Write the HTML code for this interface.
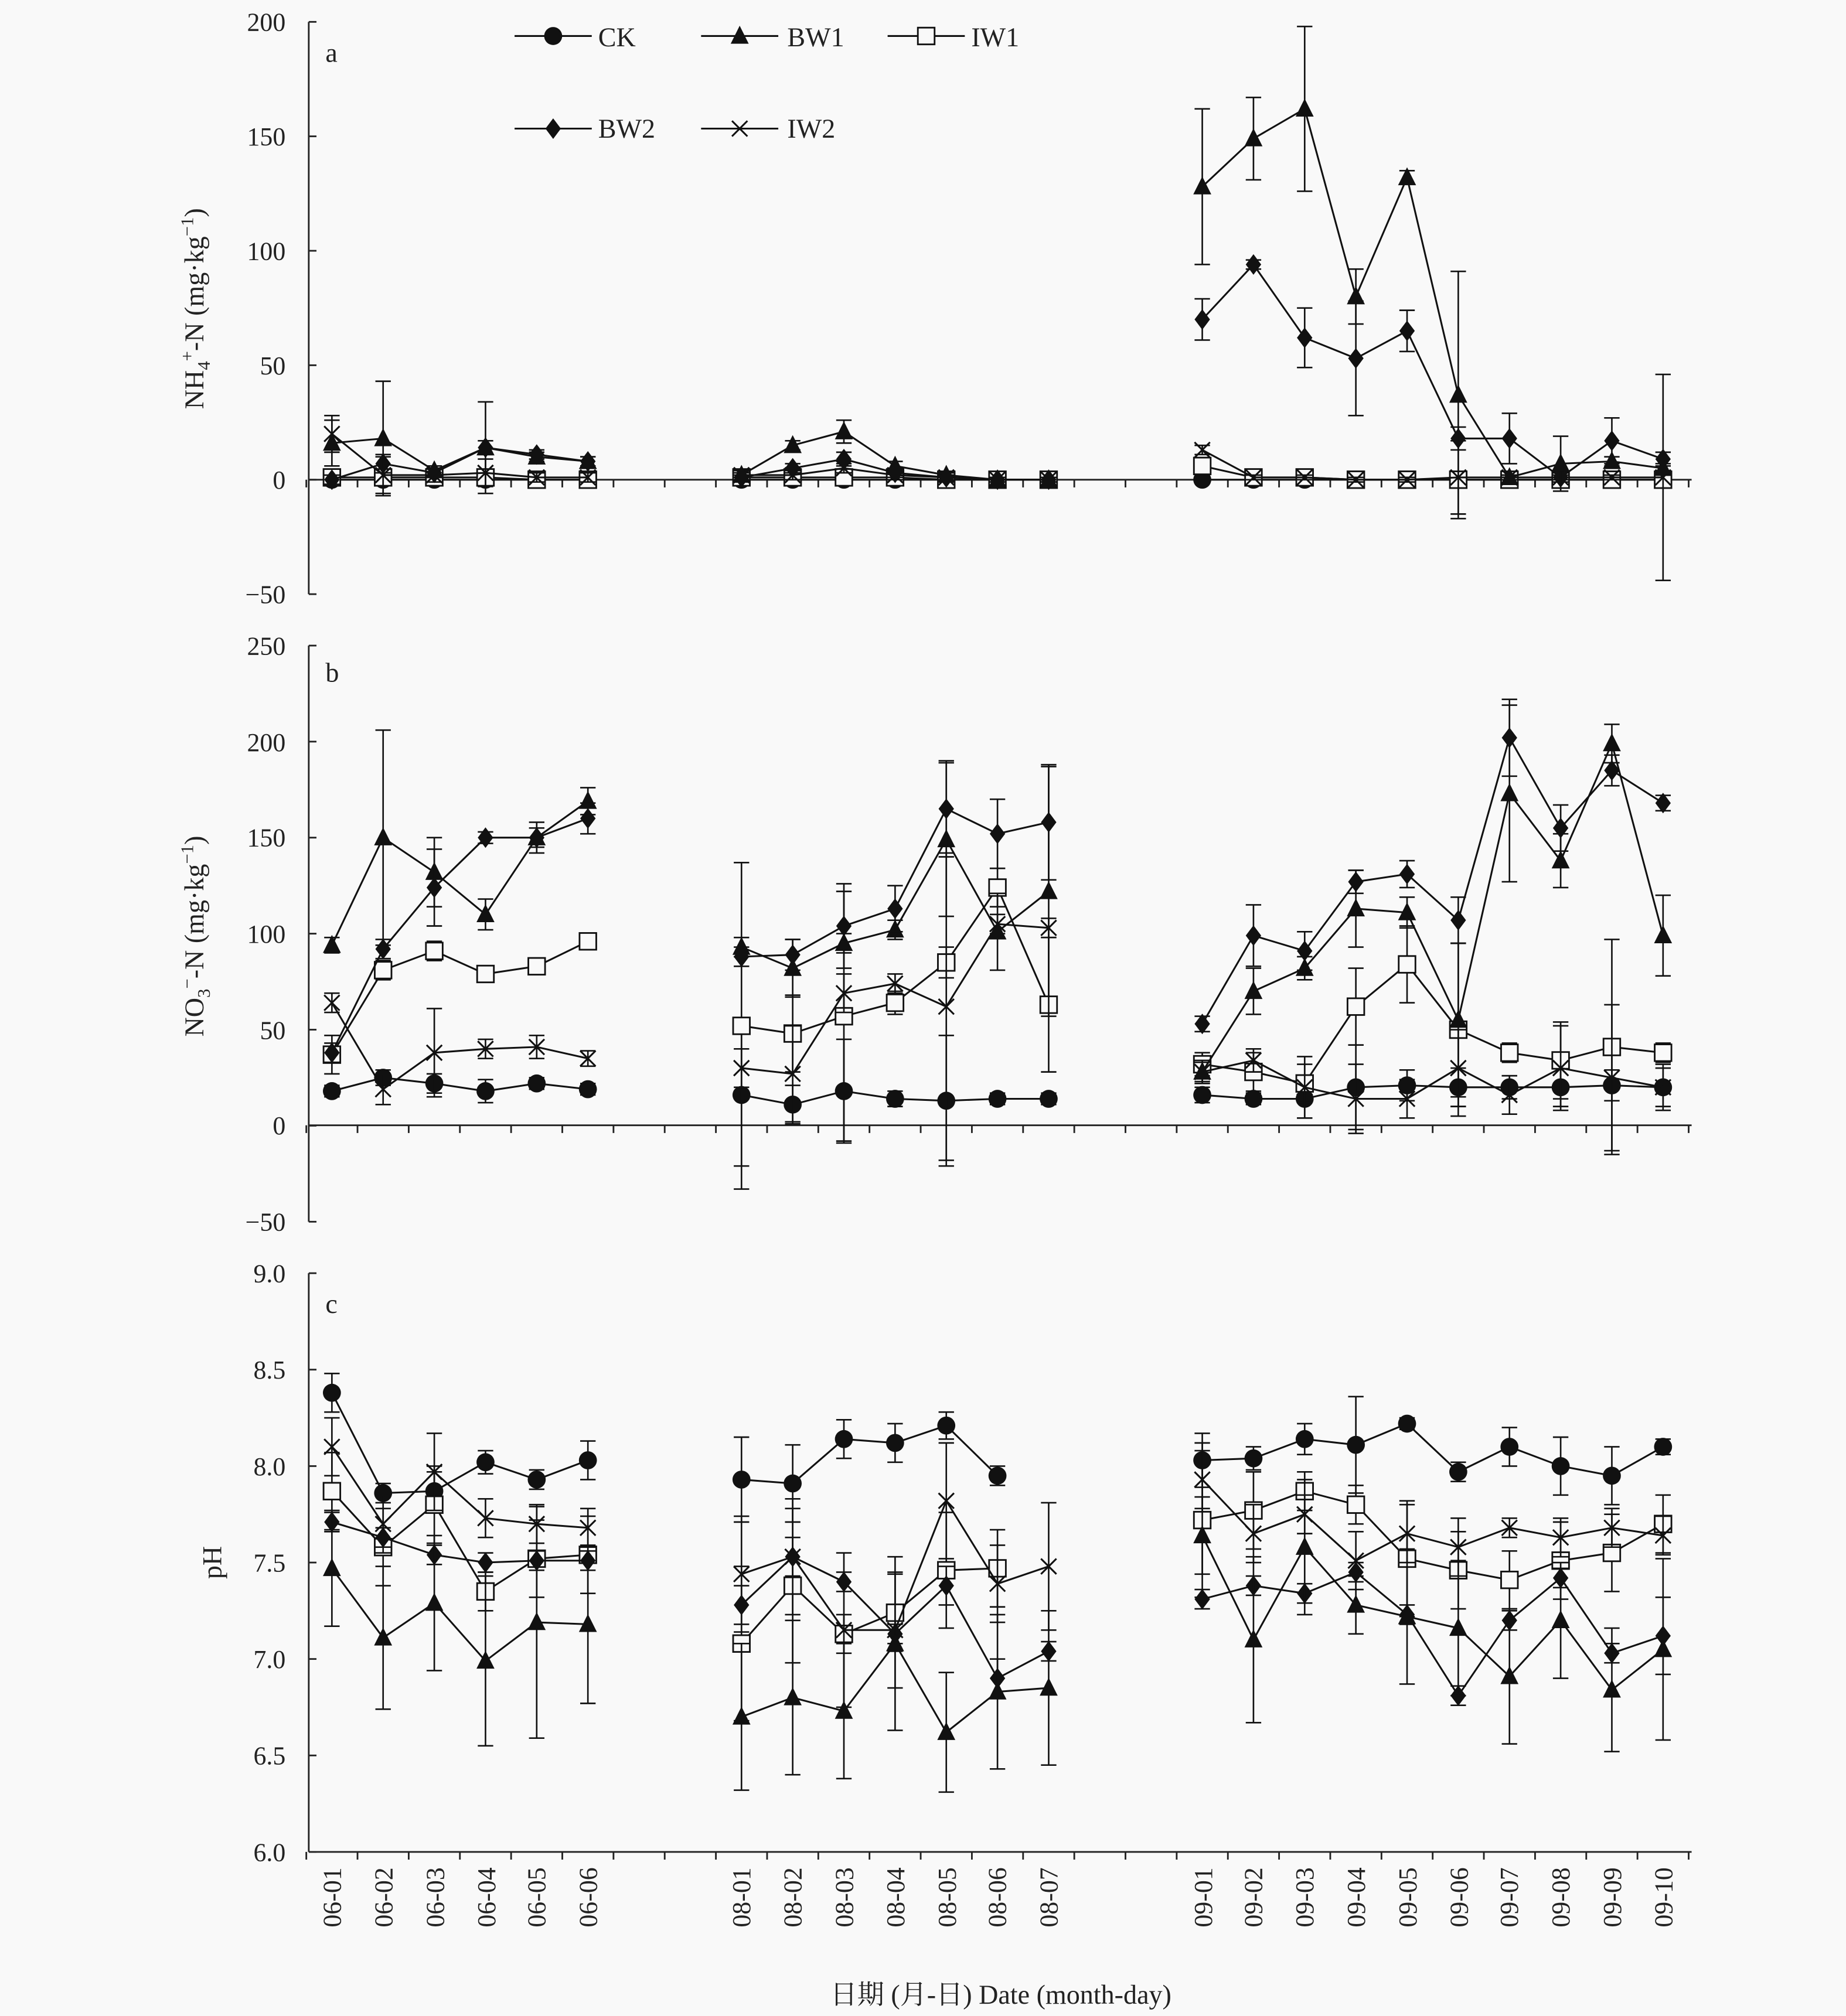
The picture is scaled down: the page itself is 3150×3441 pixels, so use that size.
<!DOCTYPE html>
<html><head><meta charset="utf-8"><style>
html,body{margin:0;padding:0;background:#f9f9f9;}
svg{display:block;font-family:"Liberation Serif","Noto Serif CJK SC",serif;}
</style></head><body>
<svg id="s" width="3150" height="3441" viewBox="0 0 1435 1567.6" xmlns="http://www.w3.org/2000/svg">
<rect x="0" y="0" width="1435" height="1568" fill="#f9f9f9"/>
<g id="axes" stroke="#222" stroke-width="1.3" fill="none"></g>
<g id="data"></g>
<g fill="#222" font-size="20" text-anchor="end">
<text x="222" y="24">200</text><text x="222" y="113">150</text><text x="222" y="202">100</text><text x="222" y="291">50</text><text x="222" y="380">0</text><text x="222" y="469">−50</text>
<text x="222" y="509">250</text><text x="222" y="584">200</text><text x="222" y="658">150</text><text x="222" y="733">100</text><text x="222" y="808">50</text><text x="222" y="882">0</text><text x="222" y="957">−50</text>
<text x="222" y="997">9.0</text><text x="222" y="1072">8.5</text><text x="222" y="1147">8.0</text><text x="222" y="1222">7.5</text><text x="222" y="1297">7.0</text><text x="222" y="1372">6.5</text><text x="222" y="1447">6.0</text>
</g>
<g fill="#222" font-size="21">
<text x="253" y="48">a</text><text x="253" y="530">b</text><text x="253" y="1021">c</text>
<text x="465" y="36">CK</text><text x="612" y="36">BW1</text><text x="755" y="36">IW1</text>
<text x="465" y="107">BW2</text><text x="612" y="107">IW2</text>
</g>
<g fill="#222" font-size="21" text-anchor="middle">
<text transform="translate(158,240) rotate(-90)">NH<tspan font-size="14" dy="5">4</tspan><tspan font-size="14" dy="-13">+</tspan><tspan dy="8">-N (mg·kg</tspan><tspan font-size="14" dy="-8">−1</tspan><tspan dy="8">)</tspan></text>
<text transform="translate(158,728) rotate(-90)">NO<tspan font-size="14" dy="5">3</tspan><tspan font-size="14" dy="-13">−</tspan><tspan dy="8">-N (mg·kg</tspan><tspan font-size="14" dy="-8">−1</tspan><tspan dy="8">)</tspan></text>
<text transform="translate(172,1215) rotate(-90)">pH</text>
<text x="778" y="1558">日期 (月-日) Date (month-day)</text>
</g>
<g id="xl" fill="#222" font-size="20" text-anchor="end">
<text transform="translate(265,1452) rotate(-90)">06-01</text><text transform="translate(305,1452) rotate(-90)">06-02</text><text transform="translate(345,1452) rotate(-90)">06-03</text><text transform="translate(385,1452) rotate(-90)">06-04</text><text transform="translate(424,1452) rotate(-90)">06-05</text><text transform="translate(464,1452) rotate(-90)">06-06</text>
<text transform="translate(583,1452) rotate(-90)">08-01</text><text transform="translate(623,1452) rotate(-90)">08-02</text><text transform="translate(663,1452) rotate(-90)">08-03</text><text transform="translate(703,1452) rotate(-90)">08-04</text><text transform="translate(743,1452) rotate(-90)">08-05</text><text transform="translate(782,1452) rotate(-90)">08-06</text><text transform="translate(822,1452) rotate(-90)">08-07</text>
<text transform="translate(942,1452) rotate(-90)">09-01</text><text transform="translate(981,1452) rotate(-90)">09-02</text><text transform="translate(1021,1452) rotate(-90)">09-03</text><text transform="translate(1061,1452) rotate(-90)">09-04</text><text transform="translate(1101,1452) rotate(-90)">09-05</text><text transform="translate(1141,1452) rotate(-90)">09-06</text><text transform="translate(1180,1452) rotate(-90)">09-07</text><text transform="translate(1220,1452) rotate(-90)">09-08</text><text transform="translate(1260,1452) rotate(-90)">09-09</text><text transform="translate(1300,1452) rotate(-90)">09-10</text>
</g>
</svg>
<script>
const NS="http://www.w3.org/2000/svg";
const ax=document.getElementById('axes'),dg=document.getElementById('data');
function el(p,t,a){const e=document.createElementNS(NS,t);for(const k in a)e.setAttribute(k,a[k]);p.appendChild(e);return e;}
const X=i=>258+i*39.8;
const L=240,R=1315;
// panels
const P=[{top:17,bot:462,zero:373,f:v=>17+(200-v)*1.78,ticks:[200,150,100,50,0,-50]},
 {top:502,bot:950,zero:875,f:v=>502+(250-v)*1.4933,ticks:[250,200,150,100,50,0,-50]},
 {top:990,bot:1440,zero:1440,f:v=>990+(9-v)*150,ticks:[9,8.5,8,7.5,7,6.5,6]}];
P.forEach(p=>{
 el(ax,'line',{x1:L,y1:p.top,x2:L,y2:p.bot});
 p.ticks.forEach(t=>el(ax,'line',{x1:L,y1:p.f(t),x2:L+6,y2:p.f(t)}));
 el(ax,'line',{x1:L,y1:p.zero,x2:R,y2:p.zero});
 for(let i=0;i<=27;i++){const x=258-19.9+i*39.8;el(ax,'line',{x1:x,y1:p.zero,x2:x,y2:p.zero+6});}
});
const idx=[0,1,2,3,4,5,8,9,10,11,12,13,14,17,18,19,20,21,22,23,24,25,26];
function marker(g,t,x,y){
 if(t=='c')el(g,'circle',{cx:x,cy:y,r:7,fill:'#111'});
 if(t=='t')el(g,'path',{d:`M${x},${y-8}L${x+7},${y+6}L${x-7},${y+6}Z`,fill:'#111'});
 if(t=='s')el(g,'rect',{x:x-6.5,y:y-6.5,width:13,height:13,fill:'#f9f9f9',stroke:'#111','stroke-width':1.3});
 if(t=='d')el(g,'path',{d:`M${x},${y-8}L${x+6},${y}L${x},${y+8}L${x-6},${y}Z`,fill:'#111'});
 if(t=='x')el(g,'path',{d:`M${x-6},${y-6}L${x+6},${y+6}M${x+6},${y-6}L${x-6},${y+6}`,stroke:'#111','stroke-width':1.4,fill:'none'});
}
function series(p,t,vals,errs){
 const g=el(dg,'g',{});
 const groups=[[0,6],[6,13],[13,23]];
 groups.forEach(([a,b])=>{
  let pts=[];
  for(let k=a;k<b;k++){if(vals[k]==null)continue;pts.push([X(idx[k]),p.f(vals[k]),k]);}
  el(g,'polyline',{points:pts.map(q=>q[0]+','+q[1]).join(' '),fill:'none',stroke:'#111','stroke-width':1.4});
  pts.forEach(q=>{const e=errs?errs[q[2]]:0;if(e){const y1=p.f(vals[q[2]]+e),y2=p.f(vals[q[2]]-e);
   el(g,'path',{d:`M${q[0]},${y1}V${y2}M${q[0]-6},${y1}H${q[0]+6}M${q[0]-6},${y2}H${q[0]+6}`,stroke:'#111','stroke-width':1.2,fill:'none'});}});
  pts.forEach(q=>marker(g,t,q[0],q[1]));
 });
}
const A=P[0],B=P[1],C=P[2];
// panel a
series(A,'c',[0,0,0,0,0,0, 0,0,0,0,0,0,0, 0,0,0,0,0,0,0,0,0,0]);
series(A,'s',[1,1,1,1,0,0, 1,1,1,1,0,0,0, 6,1,1,0,0,0,0,0,0,0],[2,2,2,2,1,1,1,1,1,1,1,1,1,3,1,1,1,1,1,1,1,1,1]);
series(A,'x',[20,2,2,3,1,1, 2,2,5,2,1,0,0, 13,1,1,0,0,1,1,1,1,1],[8,8,3,6,2,2,2,2,2,2,1,1,1,2,1,1,1,1,16,1,1,1,45]);
series(A,'d',[0,7,3,14,11,8, 1,5,9,3,1,0,0, 70,94,62,53,65,18,18,1,17,9],[2,4,2,3,2,2,1,2,3,2,1,1,1,9,2,13,25,9,5,11,2,10,3]);
series(A,'t',[16,18,4,14,10,8, 2,15,21,6,2,0,0, 128,149,162,80,132,37,1,7,8,5],[10,25,2,20,2,2,1,2,5,2,1,1,1,34,18,36,12,3,54,1,12,2,2]);
// panel b
series(B,'c',[18,25,22,18,22,19, 16,11,18,14,13,14,14, 16,14,14,20,21,20,20,20,21,20],[3,4,5,6,3,3,37,10,27,4,34,3,3,4,3,10,22,8,10,6,10,8,12]);
series(B,'s',[37,81,91,79,83,96, 52,48,57,64,85,124,63, 32,28,22,62,84,50,38,34,41,38],[10,5,5,4,4,4,85,20,65,6,8,10,35,6,10,10,20,20,45,5,20,56,5]);
series(B,'x',[64,19,38,40,41,35, 30,27,69,74,62,105,103, 28,34,20,14,14,30,16,30,25,20],[5,8,23,5,6,4,10,25,10,5,80,5,5,5,6,16,18,10,20,10,22,38,10]);
series(B,'t',[94,150,132,110,150,169, 93,82,95,102,149,101,122, 28,70,82,113,111,55,173,138,199,99],[4,56,18,8,8,7,5,15,5,5,40,20,65,6,12,6,20,8,40,46,14,10,21]);
series(B,'d',[38,92,124,150,150,160, 88,89,104,113,165,152,158, 53,99,91,127,131,107,202,155,185,168],[5,5,20,3,5,8,5,8,22,12,25,18,30,4,16,10,6,7,12,20,12,8,4]);
// panel c
series(C,'c',[8.38,7.86,7.87,8.02,7.93,8.03, 7.93,7.91,8.14,8.12,8.21,7.95,null, 8.03,8.04,8.14,8.11,8.22,7.97,8.10,8.00,7.95,8.10],[0.1,0.05,0.1,0.06,0.05,0.1,0.22,0.2,0.1,0.1,0.07,0.05,0,0.14,0.06,0.08,0.25,0.03,0.05,0.1,0.15,0.15,0.04]);
series(C,'s',[7.87,7.58,7.80,7.35,7.52,7.54, 7.08,7.38,7.13,7.24,7.46,7.47,null, 7.72,7.77,7.87,7.80,7.52,7.46,7.41,7.51,7.55,7.70],[0.2,0.2,0.2,0.1,0.2,0.2,0.4,0.4,0.1,0.2,0.3,0.2,0,0.4,0.2,0.1,0.1,0.3,0.2,0.15,0.2,0.2,0.15]);
series(C,'x',[8.10,7.70,7.97,7.73,7.70,7.68, 7.44,7.53,7.15,7.15,7.82,7.39,7.48, 7.93,7.65,7.75,7.51,7.65,7.58,7.68,7.63,7.68,7.64],[0.15,0.15,0.2,0.1,0.1,0.1,0.3,0.3,0.4,0.3,0.3,0.2,0.33,0.15,0.15,0.1,0.15,0.15,0.15,0.05,0.1,0.1,0.1]);
series(C,'d',[7.71,7.63,7.54,7.50,7.51,7.51, 7.28,7.53,7.40,7.13,7.38,6.90,7.04, 7.31,7.38,7.34,7.45,7.23,6.81,7.20,7.42,7.03,7.12],[0.05,0.05,0.05,0.05,0.05,0.05,0.1,0.1,0.05,0.05,0.1,0.1,0.05,0.05,0.05,0.05,0.05,0.05,0.05,0.05,0.05,0.05,0.2]);
series(C,'t',[7.47,7.11,7.29,6.99,7.19,7.18, 6.70,6.80,6.73,7.08,6.62,6.83,6.85, 7.64,7.10,7.58,7.28,7.22,7.16,6.91,7.20,6.84,7.05],[0.3,0.37,0.35,0.44,0.6,0.41,0.38,0.4,0.35,0.45,0.31,0.4,0.4,0.2,0.43,0.35,0.15,0.35,0.35,0.35,0.3,0.32,0.47]);
// legend
const lg=el(dg,'g',{});
[[400,28,'c'],[545,28,'t'],[690,28,'s'],[400,100,'d'],[545,100,'x']].forEach(([x,y,t])=>{
 el(lg,'line',{x1:x,y1:y,x2:x+60,y2:y,stroke:'#111','stroke-width':1.4});marker(lg,t,x+30,y);});
</script>
</body></html>
